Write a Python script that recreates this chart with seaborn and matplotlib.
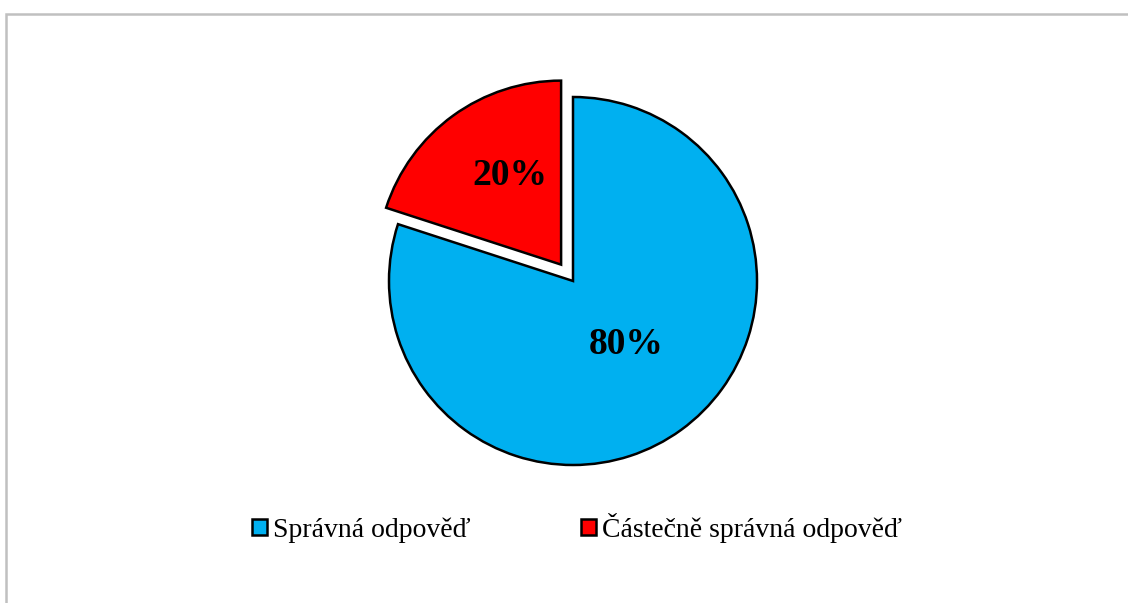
import matplotlib.pyplot as plt
import seaborn as sns
import numpy as np
from matplotlib.patches import Rectangle

# data
labels = ['Správná odpověď', 'Částečně správná odpověď']
shares = [80, 20]
colors = ['#00B0F0', '#FF0000']
explode = [0, 0.11]
# label placement relative to each wedge (distance in radii, angle nudge in degrees)
label_dist = [0.435, 0.576]
label_nudge = [5.5, -7.3]

sns.set_theme(style='white')
plt.rcParams['font.family'] = ['Liberation Serif', 'DejaVu Serif']
plt.rcParams['text.color'] = 'black'

W, H = 1128, 603
fig = plt.figure(figsize=(W / 100, H / 100), dpi=100)

# gray frame (only top and left edges visible)
fig.patches.append(Rectangle((6 / W, -0.1), 1.2, 1 - 14 / H + 0.1, transform=fig.transFigure,
                             fill=False, edgecolor='#C0C0C0', linewidth=1.8))

# square axes centred on the pie
cx, cy, r_px, half = 573, 281, 184, 230
ax = fig.add_axes([(cx - half) / W, (H - cy - half) / H, 2 * half / W, 2 * half / H])
wedges, _ = ax.pie(shares, colors=colors, explode=explode, startangle=90, counterclock=False,
                   wedgeprops=dict(edgecolor='black', linewidth=1.8))
lim = half / r_px
ax.set_xlim(-lim, lim)
ax.set_ylim(-lim, lim)
ax.set_aspect('equal')
ax.axis('off')

for w, val, d, nudge in zip(wedges, shares, label_dist, label_nudge):
    ang = np.deg2rad((w.theta1 + w.theta2) / 2 + nudge)
    x0, y0 = w.center
    ax.text(x0 + d * np.cos(ang), y0 + d * np.sin(ang), f'{val}%', ha='center',
            va='center_baseline', fontsize=27, fontweight='bold', color='black')

fig.legend(wedges, labels, loc='center', bbox_to_anchor=(577 / W, 1 - 528 / H), ncol=2,
           frameon=False, fontsize=20, handlelength=0.54, handleheight=0.54,
           handletextpad=0.22, columnspacing=4.0, labelcolor='black')

fig.savefig('out.png', dpi=100, facecolor='white')
